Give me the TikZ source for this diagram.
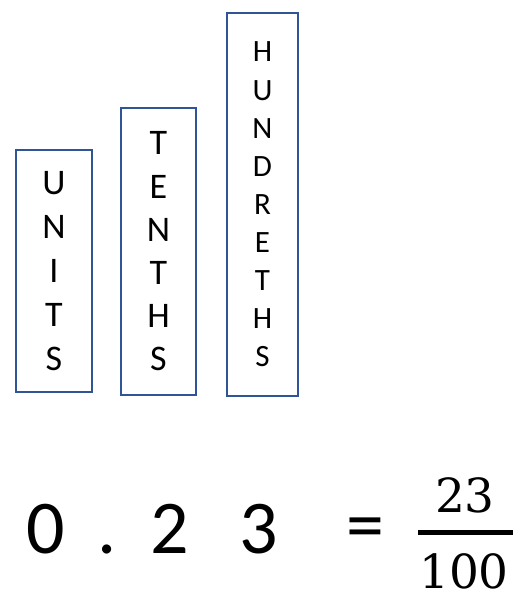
\documentclass[tikz,border=0pt]{standalone}
\usepackage{fontspec}
\setmainfont{Carlito}
\newfontfamily\fracfont{DejaVu Serif}
\definecolor{boxblue}{HTML}{2F5597}
\tikzset{
  placebox/.style={draw=boxblue, line width=2pt, fill=white, inner sep=0pt, align=center, text=black},
  bigdigit/.style={anchor=base, inner sep=0pt, font=\fontsize{76}{80}\selectfont},
  fracdigit/.style={anchor=base, inner sep=0pt, font=\fracfont\fontsize{47}{50}\selectfont}
}
\begin{document}
\begin{tikzpicture}[x=1pt,y=-1pt]
\useasboundingbox (0,0) rectangle (518,592);
\node[placebox, minimum width=76pt, minimum height=242pt,
      font=\fontsize{36}{44}\selectfont] (units) at (54,271) {U\\N\\I\\T\\S};
\node[placebox, minimum width=75pt, minimum height=287pt,
      font=\fontsize{36}{43.2}\selectfont] (tenths) at (158.5,251.5) {T\\E\\N\\T\\H\\S};
\node[placebox, minimum width=71pt, minimum height=383pt,
      font=\fontsize{31}{38.1}\selectfont] (hundreths) at (262.5,204.5) {H\\U\\N\\D\\R\\E\\T\\H\\S};
\node[bigdigit] (d0) at (45.5,553) {0};
\node[bigdigit] (dot) at (107,553) {.};
\node[bigdigit] (d2) at (170,553) {2};
\node[bigdigit] (d3) at (259,553) {3};
\node[inner sep=0pt, font=\fontsize{76}{80}\selectfont] (eq) at (365,534) {=};
\coordinate (barl) at (418,532);
\coordinate (barr) at (513,532);
\draw[line width=5pt] (barl) -- (barr);
\node[fracdigit] (num) at (465,512) {23};
\node[fracdigit] (den) at (464,588) {100};
\end{tikzpicture}
\end{document}
